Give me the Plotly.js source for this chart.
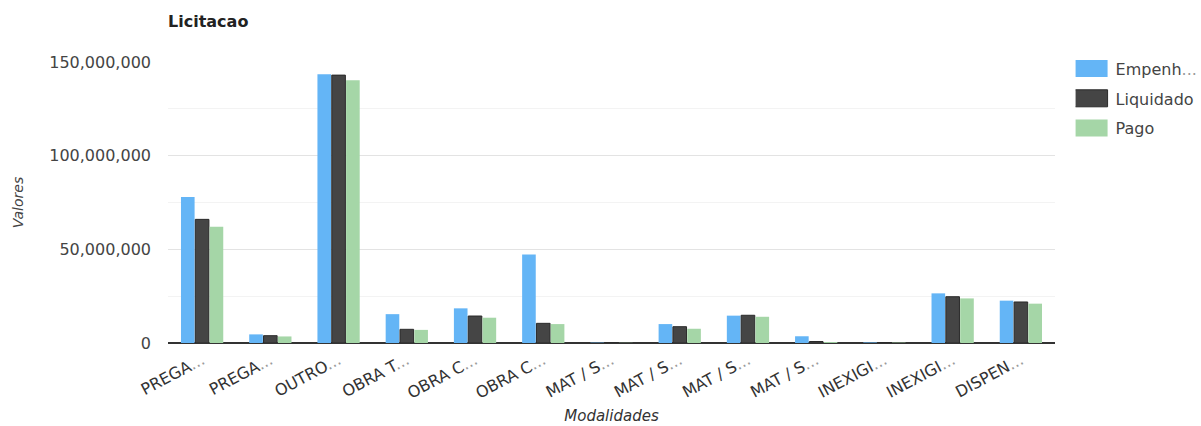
<!DOCTYPE html>
<html>
<head>
<meta charset="utf-8">
<script src="https://cdn.plot.ly/plotly-3.0.1.min.js"></script>
<style>html,body{margin:0;padding:0;background:#fff;}#chart{width:1201px;height:426px;}</style>
</head>
<body>
<div id="chart"></div>
<script>
const categories = ["PREGA...", "PREGA...", "OUTRO...", "OBRA T...", "OBRA C...", "OBRA C...", "MAT / S...", "MAT / S...", "MAT / S...", "MAT / S...", "INEXIGI...", "INEXIGI...", "DISPEN..."];
const empenhado = [78000000, 4600000, 143400000, 15400000, 18500000, 47300000, 200000, 10100000, 14600000, 3600000, 300000, 26500000, 22600000];
const liquidado = [66000000, 3900000, 143000000, 7300000, 14400000, 10500000, 100000, 8700000, 14800000, 800000, 200000, 24700000, 21900000];
const pago = [62000000, 3500000, 140300000, 7000000, 13500000, 10100000, 100000, 7600000, 14000000, 500000, 200000, 23800000, 21000000];
const seriesNames = ["Empenh...", "Liquidado", "Pago"];

const idx = categories.map((c, i) => i);
const FONT = "DejaVu Sans, Liberation Sans, Arial, sans-serif";
const colors = ["#64b5f6", "#454545", "#a5d6a7"];
const values = [empenhado, liquidado, pago];
const styleEllipsis = s => s.replace("...", "<span style='color:#9a9a9a'>...</span>");

const traces = values.map((v, k) => ({
  type: "bar",
  name: styleEllipsis(seriesNames[k]),
  legendgroup: "g" + k,
  x: idx,
  y: v,
  marker: {color: colors[k], line: {width: k === 1 ? 1 : 0, color: "#2a2a2a"}},
  hoverinfo: "y+name"
}));

const layout = {
  width: 1201, height: 426,
  margin: {l: 168, r: 146, t: 62, b: 83, autoexpand: false},
  paper_bgcolor: "#fff", plot_bgcolor: "#fff",
  font: {family: FONT, color: "#444", size: 15},
  title: {text: "<b>Licitacao</b>", x: 168/1201, xanchor: "left", y: 1 - 21/426, yanchor: "middle", font: {family: FONT, size: 16, color: "#222"}},
  barmode: "group",
  bargap: 0.37,
  bargroupgap: 0.05,
  showlegend: true,
  legend: {x: 1.0232, xanchor: "left", y: 1.037, yanchor: "top", font: {family: FONT, size: 16, color: "#444"}, tracegroupgap: 6, itemwidth: 30},
  xaxis: {
    tickmode: "array", tickvals: idx, ticktext: categories.map(styleEllipsis),
    range: [-0.5, categories.length - 0.5],
    tickangle: -28, ticks: "", showgrid: false, zeroline: false, showline: false,
    ticklabelstandoff: 4,
    tickfont: {family: FONT, size: 16, color: "#333"},
    title: {text: "<i>Modalidades</i>", font: {family: FONT, size: 15, color: "#333"}, standoff: 8}
  },
  yaxis: {
    range: [0, 150000000], tick0: 0, dtick: 50000000,
    tickformat: ",d", separatethousands: true,
    gridcolor: "#e3e3e3", zeroline: true, zerolinecolor: "#333", zerolinewidth: 2,
    minor: {dtick: 25000000, showgrid: true, gridcolor: "#f3f3f3", ticks: ""},
    ticks: "", ticklen: 0, showline: false, ticklabelstandoff: 16,
    tickfont: {family: FONT, size: 16, color: "#444"},
    title: {text: "<i>Valores</i>", font: {family: FONT, size: 14, color: "#444"}, standoff: 22}
  }
};

Plotly.newPlot("chart", traces, layout, {displayModeBar: false, staticPlot: true}).then(gd => {
  // widen legend swatches to rectangles like the reference
  gd.querySelectorAll(".legend .traces").forEach(tr => {
    const txt = tr.querySelector("text.legendtext");
    const tx = txt ? parseFloat(txt.getAttribute("x")) || 40 : 40;
    tr.querySelectorAll(".legendpoints path").forEach(p => {
      p.setAttribute("d", `M${tx - 43},-8.5H${tx - 8}V8.5H${tx - 43}Z`);
      p.removeAttribute("transform");
    });
  });
});
</script>
</body>
</html>
